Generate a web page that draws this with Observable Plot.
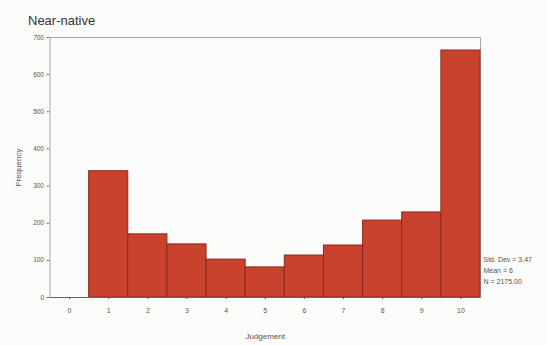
<!DOCTYPE html>
<html>
<head>
<meta charset="utf-8">
<script src="https://cdn.jsdelivr.net/npm/d3@7"></script>
<script src="https://cdn.jsdelivr.net/npm/@observablehq/plot@0.6"></script>
<style>
  html, body { margin: 0; padding: 0; background: #fbfbf9; }
  #chart svg { display: block; }
</style>
</head>
<body>
<div id="chart"></div>
<script>
// Judgement scores (0–10) and how often each was given
const judgements = [0, 1, 2, 3, 4, 5, 6, 7, 8, 9, 10];
const frequencies = [0, 340, 170, 143, 102, 81, 113, 140, 207, 229, 665];
const yTicks = [0, 100, 200, 300, 400, 500, 600, 700];
const title = "Near-native";
const stats = ["Std. Dev = 3.47", "Mean = 6", "N = 2175.00"];

const bins = judgements.map((j, i) => ({x1: j - 0.5, x2: j + 0.5, freq: frequencies[i]}));

const chart = Plot.plot({
  width: 546,
  height: 345,
  marginLeft: 49.5,
  marginRight: 66,
  marginTop: 37,
  marginBottom: 48,
  style: {background: "#fbfbf9", fontFamily: "'Liberation Sans', Arial, sans-serif"},
  x: {domain: [-0.5, 10.5], ticks: judgements, tickSize: 2, tickPadding: 8, label: null},
  y: {domain: [0, 700], ticks: yTicks, tickSize: 3, tickPadding: 3, label: null},
  marks: [
    Plot.frame({stroke: "#a8a8a8", strokeWidth: 1}),
    Plot.rectY(bins, {x1: "x1", x2: "x2", y: "freq", fill: "#c8422d", stroke: "#8c2a1c", strokeWidth: 1}),
    Plot.ruleY([0], {stroke: "#666"}),
    Plot.axisX({ticks: judgements, tickSize: 2, tickPadding: 9, fontSize: 7, fill: "#555", stroke: "#555", label: null}),
    Plot.axisY({ticks: yTicks, tickSize: 3, tickPadding: 3, fontSize: 6.5, fill: "#555", stroke: "#777", label: null}),
    Plot.text([title], {frameAnchor: "top-left", dx: -22, dy: -22, text: d => d, fontSize: 13, fill: "#333", textAnchor: "start"}),
    Plot.text(["Frequency"], {frameAnchor: "left", dx: -32, text: d => d, rotate: -90, textAnchor: "middle", lineAnchor: "middle", fontSize: 8, fill: "#555"}),
    Plot.text(["Judgement"], {frameAnchor: "bottom", dy: 41, text: d => d, fontSize: 8, fill: "#555"}),
    Plot.text([stats.join("\n")], {frameAnchor: "bottom-right", dx: 3, dy: -14, text: d => d, textAnchor: "start", lineAnchor: "bottom", lineHeight: 1.55, fontSize: 7, fill: "#555"})
  ]
});
document.getElementById("chart").appendChild(chart);
</script>
</body>
</html>
